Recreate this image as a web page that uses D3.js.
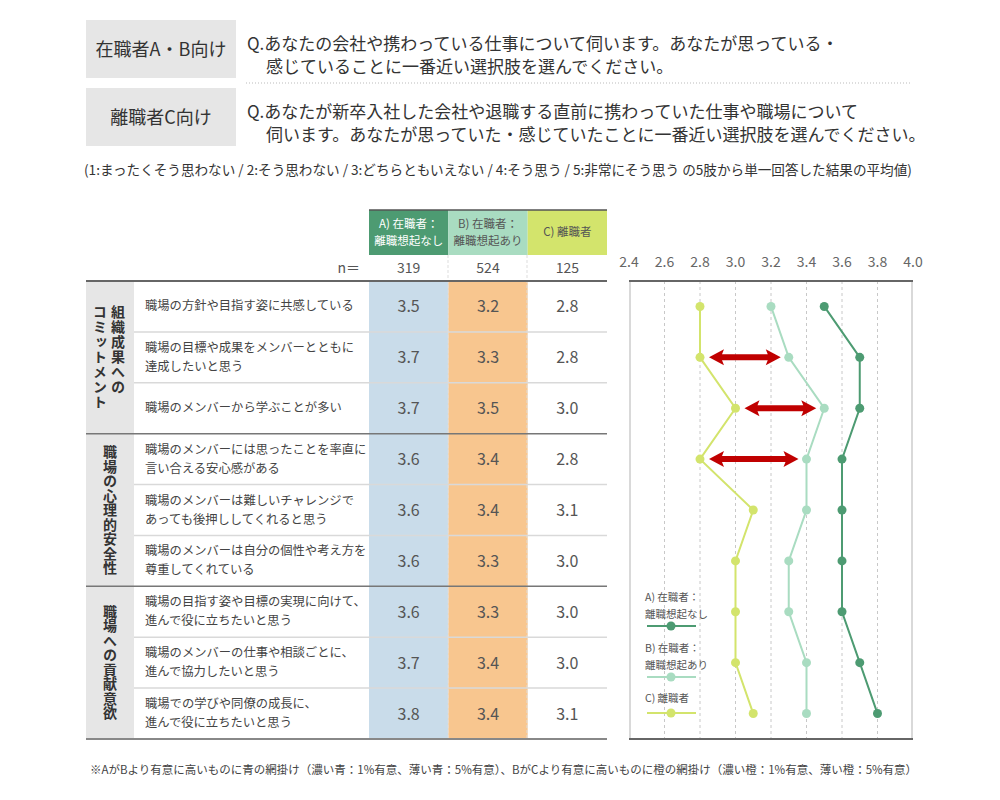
<!DOCTYPE html>
<html>
<head>
<meta charset="utf-8">
<script src="https://cdn.jsdelivr.net/npm/d3@7"></script>
<style>
  body { margin: 0; background: #fff; }
  svg text { font-family: "Noto Sans CJK JP", "Noto Sans", sans-serif; }
</style>
</head>
<body>
<svg id="chart" width="1000" height="800"></svg>
<script>
// data
var groups = ["組織成果への|コミットメント", "職場の心理的安全性", "職場への貢献意欲"]
var questions = [
  "職場の方針や目指す姿に共感している",
  "職場の目標や成果をメンバーとともに|達成したいと思う",
  "職場のメンバーから学ぶことが多い",
  "職場のメンバーには思ったことを率直に|言い合える安心感がある",
  "職場のメンバーは難しいチャレンジで|あっても後押ししてくれると思う",
  "職場のメンバーは自分の個性や考え方を|尊重してくれている",
  "職場の目指す姿や目標の実現に向けて、|進んで役に立ちたいと思う",
  "職場のメンバーの仕事や相談ごとに、|進んで協力したいと思う",
  "職場での学びや同僚の成長に、|進んで役に立ちたいと思う"
]
var seriesNames = ["A) 在職者：|離職想起なし", "B) 在職者：|離職想起あり", "C) 離職者"]
var sampleSizes = [319, 524, 125]
var valuesA = [3.5, 3.7, 3.7, 3.6, 3.6, 3.6, 3.6, 3.7, 3.8]
var valuesB = [3.2, 3.3, 3.5, 3.4, 3.4, 3.3, 3.3, 3.4, 3.4]
var valuesC = [2.8, 2.8, 3.0, 2.8, 3.1, 3.0, 3.0, 3.0, 3.1]
var shadeA = ["blue", "blue", "blue", "blue", "blue", "blue", "blue", "blue", "blue"]
var shadeB = ["orange", "orange", "orange", "orange", "orange", "orange", "orange", "orange", "orange"]
var arrowRows = [1, 2, 3]
var xTicks = [2.4, 2.6, 2.8, 3.0, 3.2, 3.4, 3.6, 3.8, 4.0]

var colors = { A: "#4d9b72", B: "#a9dcc1", C: "#d3e46c", blue: "#c9dcea", orange: "#f8c68f", arrow: "#c00000" }

var svg = d3.select("#chart")

// ---------- header ----------
var heads = [
  { label: "在職者A・B向け", y: 20, lines: ["Q.あなたの会社や携わっている仕事について伺います。あなたが思っている・", "感じていることに一番近い選択肢を選んでください。"] },
  { label: "離職者C向け", y: 88, lines: ["Q.あなたが新卒入社した会社や退職する直前に携わっていた仕事や職場について", "伺います。あなたが思っていた・感じていたことに一番近い選択肢を選んでください。"] }
]
heads.forEach(function(h) {
  svg.append("rect").attr("x", 86).attr("y", h.y).attr("width", 150).attr("height", 58).attr("fill", "#e6e6e6")
  svg.append("text").attr("x", 161).attr("y", h.y + 36).attr("text-anchor", "middle")
     .attr("font-size", 18).attr("fill", "#333").text(h.label)
  h.lines.forEach(function(l, i) {
    svg.append("text").attr("x", i == 0 ? 247 : 266).attr("y", h.y + 30 + i * 23)
       .attr("font-size", 17).attr("fill", "#333").text(l)
  })
})
svg.append("line").attr("x1", 246).attr("x2", 912).attr("y1", 83).attr("y2", 83)
   .attr("stroke", "#bbb").attr("stroke-dasharray", "1,2")
svg.append("text").attr("x", 84).attr("y", 175).attr("font-size", 13.6).attr("fill", "#333")
   .text("(1:まったくそう思わない / 2:そう思わない / 3:どちらともいえない / 4:そう思う / 5:非常にそう思う  の5肢から単一回答した結果の平均値)")

// ---------- table ----------
var colX = d3.scaleBand().domain(["A", "B", "C"]).range([369, 607])
var rowY = d3.scaleBand().domain(d3.range(questions.length)).range([281, 739])
var tableTop = 281, tableBottom = 739

// header cells
var headFill = [colors.A, colors.B, colors.C]
var headText = ["#fff", "#555", "#555"]
;["A", "B", "C"].forEach(function(k, i) {
  svg.append("rect").attr("x", colX(k)).attr("y", 210).attr("width", colX.bandwidth()).attr("height", 45).attr("fill", headFill[i])
  var parts = seriesNames[i].split("|")
  parts.forEach(function(p, j) {
    svg.append("text").attr("x", colX(k) + colX.bandwidth() / 2)
       .attr("y", parts.length == 1 ? 236 : 228 + j * 17)
       .attr("text-anchor", "middle").attr("font-size", 11.5).attr("fill", headText[i]).text(p)
  })
  svg.append("text").attr("x", colX(k) + colX.bandwidth() / 2).attr("y", 273)
     .attr("text-anchor", "middle").attr("font-size", 14).attr("fill", "#555").text(sampleSizes[i])
})
svg.append("line").attr("x1", 369).attr("x2", 607).attr("y1", 210).attr("y2", 210).attr("stroke", "#555").attr("stroke-width", 1.5)
svg.append("text").attr("x", 360).attr("y", 273).attr("text-anchor", "end").attr("font-size", 14).attr("fill", "#555").text("n＝")

// cell shading
questions.forEach(function(q, i) {
  svg.append("rect").attr("x", colX("A")).attr("y", rowY(i)).attr("width", colX.bandwidth()).attr("height", rowY.bandwidth())
     .attr("fill", shadeA[i] ? colors[shadeA[i]] : "none")
  svg.append("rect").attr("x", colX("B")).attr("y", rowY(i)).attr("width", colX.bandwidth()).attr("height", rowY.bandwidth())
     .attr("fill", shadeB[i] ? colors[shadeB[i]] : "none")
})

// group label cells (vertical text)
var gfs = 14, gls = [1, 0.5, 0.5]
groups.forEach(function(g, gi) {
  var y0 = rowY(gi * 3), y1 = rowY(gi * 3 + 2) + rowY.bandwidth()
  svg.append("rect").attr("x", 86).attr("y", y0).attr("width", 48).attr("height", y1 - y0).attr("fill", "#e6e6e6")
  var cols = g.split("|")
  var maxLen = d3.max(cols, c => c.length)
  var start = (y0 + y1) / 2 - maxLen * (gfs + gls[gi]) / 2
  cols.forEach(function(c, ci) {
    var cx = cols.length == 1 ? 110 : (ci == 0 ? 118 : 100)
    svg.append("text").attr("x", cx).attr("y", start)
       .style("writing-mode", "vertical-rl").attr("font-size", gfs).attr("font-weight", "bold")
       .attr("letter-spacing", gls[gi]).attr("fill", "#333").text(c)
  })
})

// row lines and texts
questions.forEach(function(q, i) {
  if (i > 0 && i % 3 != 0) {
    svg.append("line").attr("x1", 134).attr("x2", 607).attr("y1", rowY(i)).attr("y2", rowY(i))
       .attr("stroke", "#d9d9d9").attr("stroke-width", 1.5)
  }
  var lines = q.split("|")
  lines.forEach(function(l, j) {
    svg.append("text").attr("x", 145).attr("y", rowY(i) + rowY.bandwidth() / 2 + 4 + (lines.length == 1 ? 0 : (j - 0.5) * 19))
       .attr("font-size", 12.3).attr("fill", "#444").text(l)
  })
  ;[valuesA, valuesB, valuesC].forEach(function(vals, k) {
    var key = ["A", "B", "C"][k]
    svg.append("text").attr("x", colX(key) + colX.bandwidth() / 2).attr("y", rowY(i) + rowY.bandwidth() / 2 + 6)
       .attr("text-anchor", "middle").attr("font-size", 16).attr("fill", "#555").text(vals[i].toFixed(1))
  })
})
// column separators (dashed)
;[448, 527].forEach(function(x) {
  svg.append("line").attr("x1", x).attr("x2", x).attr("y1", 255).attr("y2", tableBottom)
     .attr("stroke", "#ddd").attr("stroke-dasharray", "3,2")
})
// group separators
;[3, 6].forEach(function(i) {
  svg.append("line").attr("x1", 86).attr("x2", 607).attr("y1", rowY(i)).attr("y2", rowY(i))
     .attr("stroke", "#777").attr("stroke-width", 1.5)
})
svg.append("line").attr("x1", 86).attr("x2", 607).attr("y1", tableTop).attr("y2", tableTop).attr("stroke", "#666").attr("stroke-width", 2)
svg.append("line").attr("x1", 86).attr("x2", 607).attr("y1", tableBottom).attr("y2", tableBottom).attr("stroke", "#888").attr("stroke-width", 2)

// ---------- dot chart ----------
var xScale = d3.scaleLinear().domain([2.4, 4.0]).range([629, 913])
var yCenter = function(i) { return rowY(i) + rowY.bandwidth() / 2 }

svg.append("line").attr("x1", 630).attr("x2", 630).attr("y1", tableTop).attr("y2", tableBottom).attr("stroke", "#d9d9d9").attr("stroke-width", 2)
svg.append("line").attr("x1", 912).attr("x2", 912).attr("y1", tableTop).attr("y2", tableBottom).attr("stroke", "#d9d9d9").attr("stroke-width", 2)

xTicks.forEach(function(t) {
  if (t > 2.4 && t < 4.0) {
    svg.append("line").attr("x1", xScale(t)).attr("x2", xScale(t)).attr("y1", tableTop).attr("y2", tableBottom)
       .attr("stroke", "#c8c8c8").attr("stroke-dasharray", "3,3")
  }
  svg.append("text").attr("x", xScale(t)).attr("y", 267).attr("text-anchor", "middle")
     .attr("font-size", 14).attr("fill", "#666").text(t.toFixed(1))
})
svg.append("line").attr("x1", 629).attr("x2", 913).attr("y1", tableTop).attr("y2", tableTop).attr("stroke", "#666").attr("stroke-width", 2)
svg.append("line").attr("x1", 629).attr("x2", 913).attr("y1", tableBottom).attr("y2", tableBottom).attr("stroke", "#666").attr("stroke-width", 2)

var lineGen = d3.line().x(d => xScale(d)).y((d, i) => yCenter(i))
var series = [{ v: valuesC, c: colors.C }, { v: valuesB, c: colors.B }, { v: valuesA, c: colors.A }]
series.forEach(function(s) {
  svg.append("path").datum(s.v).attr("d", lineGen).attr("fill", "none").attr("stroke", s.c).attr("stroke-width", 2)
  svg.selectAll(null).data(s.v).enter().append("circle")
     .attr("cx", d => xScale(d)).attr("cy", (d, i) => yCenter(i)).attr("r", 4.5).attr("fill", s.c)
})

// arrows between C and B
arrowRows.forEach(function(i) {
  var x0 = xScale(valuesC[i]) + 9, x1 = xScale(valuesB[i]) - 8, y = yCenter(i)
  var hl = 15, hh = 8, sh = 3
  var p = d3.path()
  p.moveTo(x0, y)
  p.lineTo(x0 + hl, y - hh); p.lineTo(x0 + hl - 2, y - sh)
  p.lineTo(x1 - hl + 2, y - sh); p.lineTo(x1 - hl, y - hh)
  p.lineTo(x1, y)
  p.lineTo(x1 - hl, y + hh); p.lineTo(x1 - hl + 2, y + sh)
  p.lineTo(x0 + hl - 2, y + sh); p.lineTo(x0 + hl, y + hh)
  p.closePath()
  svg.append("path").attr("d", p.toString()).attr("fill", colors.arrow)
})

// legend
var legendY = [597, 648, 698]
var legendC = [colors.A, colors.B, colors.C]
seriesNames.forEach(function(n, i) {
  var parts = n.split("|")
  parts.forEach(function(p, j) {
    svg.append("text").attr("x", 645).attr("y", legendY[i] + 4 + j * 17).attr("font-size", 10.5).attr("fill", "#555").text(p)
  })
  var ly = legendY[i] + (parts.length == 1 ? 15 : 29)
  svg.append("line").attr("x1", 647).attr("x2", 696).attr("y1", ly).attr("y2", ly).attr("stroke", legendC[i]).attr("stroke-width", 2)
  svg.append("circle").attr("cx", 671).attr("cy", ly).attr("r", 4.5).attr("fill", legendC[i])
})

// footnote
svg.append("text").attr("x", 90).attr("y", 774).attr("font-size", 11.5).attr("fill", "#444")
   .text("※AがBより有意に高いものに青の網掛け（濃い青：1%有意、薄い青：5%有意）、BがCより有意に高いものに橙の網掛け（濃い橙：1%有意、薄い橙：5%有意）")
</script>
</body>
</html>
